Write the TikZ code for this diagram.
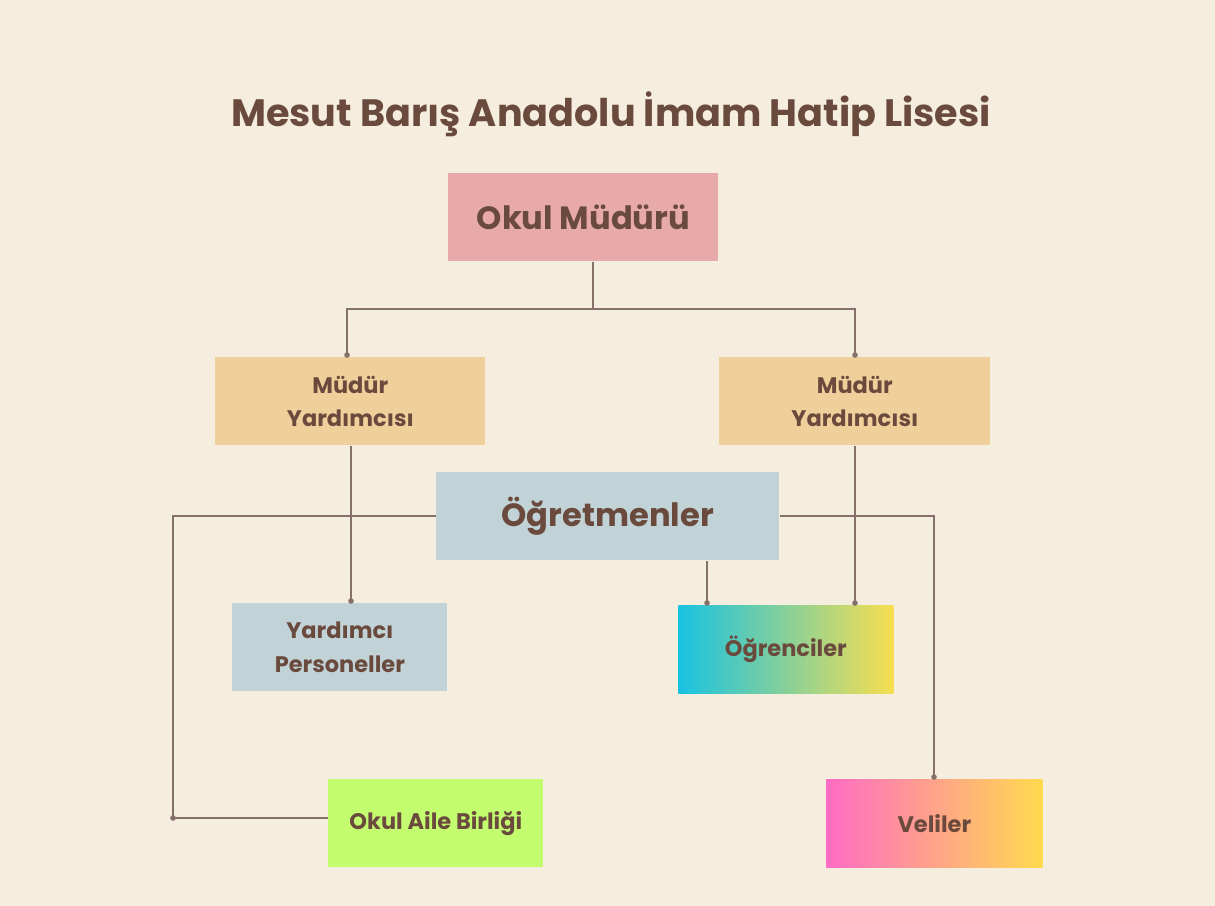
\documentclass[tikz,border=0pt]{standalone}
\usepackage{fontspec}
\setmainfont{Poppins}
\begin{document}
\begin{tikzpicture}[x=0.02cm,y=-0.02cm,
  box/.style={anchor=north west,inner sep=0pt,align=center,text=txt,font=\bfseries},
  big/.style={font=\bfseries\fontsize{18.3}{22}\selectfont},
  small/.style={font=\bfseries\fontsize{12.8}{19}\selectfont},
  link/.style={draw=ln,line width=1.1pt},
  dot/.style={circle,fill=ln,inner sep=0pt,minimum size=3.2pt}]
\definecolor{bg}{HTML}{F5EEDF}
\definecolor{txt}{HTML}{6B4A3E}
\definecolor{ln}{HTML}{86716A}
\definecolor{pinkb}{HTML}{E8A9A9}
\definecolor{tan}{HTML}{EFD09A}
\definecolor{blu}{HTML}{C1D3D6}
\definecolor{lime}{HTML}{C3FD6F}
\fill[bg] (0,0) rectangle (1215,906);
\useasboundingbox (0,0) rectangle (1215,906);
\node[text=txt,font=\bfseries\fontsize{21.7}{26}\selectfont] (title) at (611,114) {Mesut Barış Anadolu İmam Hatip Lisesi};
\node[box,big,fill=pinkb,minimum width=270*0.02cm,minimum height=88*0.02cm] (om) at (448,173) {Okul Müdürü};
\node[box,small,fill=tan,minimum width=270*0.02cm,minimum height=88*0.02cm] (myl) at (215,357) {Müdür\\Yardımcısı};
\node[box,small,fill=tan,minimum width=271*0.02cm,minimum height=88*0.02cm] (myr) at (719,357) {Müdür\\Yardımcısı};
\node[box,big,fill=blu,minimum width=343*0.02cm,minimum height=88*0.02cm] (og) at (436,472) {Öğretmenler};
\node[box,small,fill=blu,minimum width=215*0.02cm,minimum height=88*0.02cm] (yp) at (232,603) {Yardımcı\\Personeller};
\node[box,small,left color={rgb,255:red,24;green,194;blue,226},right color={rgb,255:red,248;green,222;blue,80},minimum width=215*0.02cm,minimum height=88*0.02cm] (ogr) at (678,605) {Öğrenciler};
\node[box,small,fill=lime,minimum width=215*0.02cm,minimum height=88*0.02cm] (oab) at (328,779) {Okul Aile Birliği};
\node[box,small,left color={rgb,255:red,255;green,108;blue,196},right color={rgb,255:red,255;green,218;blue,78},minimum width=216*0.02cm,minimum height=88*0.02cm] (vel) at (826,779) {Veliler};
% connectors
\coordinate (j1) at (593,309);
\draw[link] (om.south -| j1) -- (j1) -- (347,309) -- (347,357 |- myl.north);
\draw[link] (j1) -- (855,309) -- (855,357 |- myr.north);
\node[dot] at (347,355) {};
\node[dot] at (855,355) {};
\draw[link] (351,445 |- myl.south) -- (351,603 |- yp.north);
\node[dot] at (351,601) {};
\draw[link] (855,445 |- myr.south) -- (855,605 |- ogr.north);
\node[dot] at (855,603) {};
\draw[link] (707,560 |- og.south) -- (707,605 |- ogr.north);
\node[dot] at (707,603) {};
\coordinate (c1) at (173,818);
\draw[link] (og.west |- 0,516) -- (173,516) -- (c1) -- (oab.west |- c1);
\node[dot] at (c1) {};
\draw[link] (og.east |- 0,516) -- (934,516) -- (934,779 |- vel.north);
\node[dot] at (934,777) {};
\end{tikzpicture}
\end{document}
